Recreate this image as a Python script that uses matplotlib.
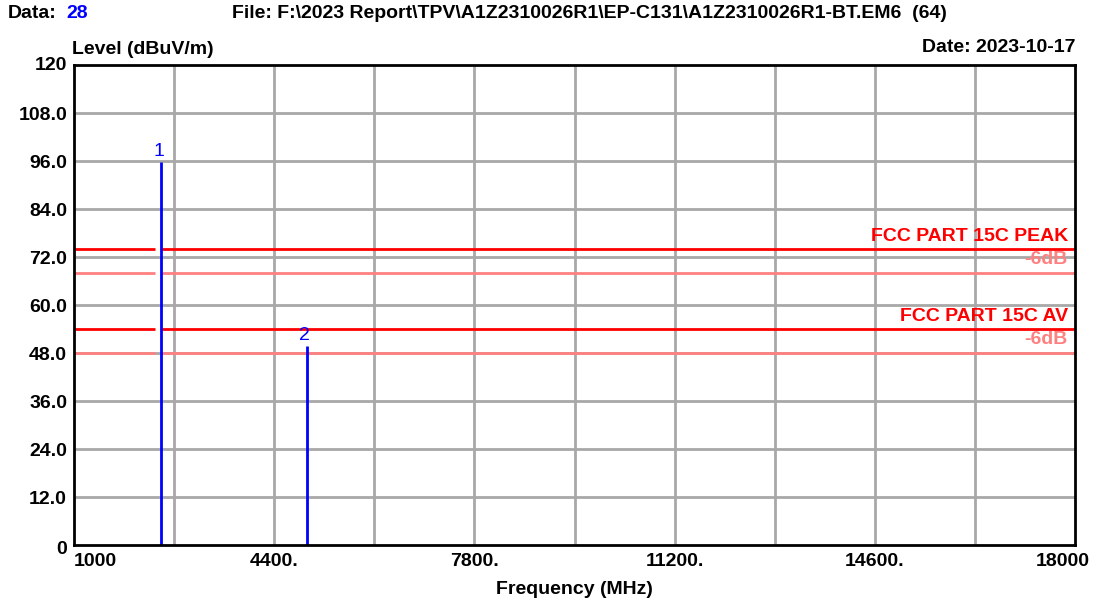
import matplotlib
matplotlib.use("Agg")
import matplotlib.pyplot as plt
from matplotlib.ticker import FixedLocator
from matplotlib.transforms import ScaledTranslation

# ---- data ----
x_ticks = [1000, 4400, 7800, 11200, 14600, 18000]
x_tick_labels = ["1000", "4400.", "7800.", "11200.", "14600.", "18000"]
x_grid = [1000, 2700, 4400, 6100, 7800, 9500, 11200, 12900, 14600, 16300, 18000]
y_ticks = [0, 12, 24, 36, 48, 60, 72, 84, 96, 108, 120]
y_tick_labels = ["0", "12.0", "24.0", "36.0", "48.0", "60.0", "72.0", "84.0", "96.0", "108.0", "120"]
marker_ids = ["1", "2"]
marker_freq = [2480, 4960]
marker_level = [95.7, 49.7]
limit_names = ["FCC PART 15C PEAK", "FCC PART 15C AV"]
limit_levels = [74, 54]
margin_db = 6

FONT = "Liberation Sans"
FS = 14
RED = "#ff0000"
PINK = "#ff8080"
BLUE = "#0000ff"
GRID = "#a8a8a8"

fig = plt.figure(figsize=(10.94, 6.03), dpi=100)
ax = fig.add_axes([74 / 1094, 1 - 545 / 603, 1001 / 1094, 480 / 603])
ax.set_xlim(1000, 18000)
ax.set_ylim(0, 120)

# grid
for g in x_grid[1:-1]:
    ax.axvline(g, color=GRID, lw=2, zorder=0)
for g in y_ticks[1:-1]:
    ax.axhline(g, color=GRID, lw=2, zorder=0)
ax.xaxis.set_major_locator(FixedLocator(x_ticks))
ax.yaxis.set_major_locator(FixedLocator(y_ticks))
ax.tick_params(which="both", length=0)
ax.set_xticklabels(x_tick_labels, fontfamily=FONT, fontweight="bold", fontsize=FS)
ax.set_yticklabels(y_tick_labels, fontfamily=FONT, fontweight="bold", fontsize=FS)
ax.tick_params(axis="y", pad=5)
ax.tick_params(axis="x", pad=6)
xl = ax.get_xticklabels()
xl[0].set_horizontalalignment("left")
xl[-1].set_horizontalalignment("right")
xl[-1].set_transform(xl[-1].get_transform() + ScaledTranslation(15 / 100, 0, fig.dpi_scale_trans))
yl = ax.get_yticklabels()
yl[-1].set_transform(yl[-1].get_transform() + ScaledTranslation(0, 2 / 100, fig.dpi_scale_trans))
yl[0].set_transform(yl[0].get_transform() + ScaledTranslation(0, -2 / 100, fig.dpi_scale_trans))
for s in ax.spines.values():
    s.set_linewidth(2)
    s.set_color("black")
    s.set_zorder(5)

# limit lines (with a small gap around marker 1)
gap_lo = marker_freq[0] - 105
gap_hi = marker_freq[0] + 15
for name, lv in zip(limit_names, limit_levels):
    for y, c in ((lv, RED), (lv - margin_db, PINK)):
        ax.plot([1000, gap_lo], [y, y], color=c, lw=2, zorder=2, solid_capstyle="butt")
        ax.plot([gap_hi, 18000], [y, y], color=c, lw=2, zorder=2, solid_capstyle="butt")
    ax.text(17880, lv + 0.9, name, color=RED, fontfamily=FONT, fontweight="bold",
            fontsize=FS, ha="right", va="bottom", zorder=4)
    ax.text(17880, lv - 0.5, "-%ddB" % margin_db, color=PINK, fontfamily=FONT, fontweight="bold",
            fontsize=FS, ha="right", va="top", zorder=4)

# markers
ax.vlines(marker_freq, 0, marker_level, color=BLUE, lw=2, zorder=3)
for mid, f, lv in zip(marker_ids, marker_freq, marker_level):
    ax.text(f - 40, lv + 0.6, mid, color=BLUE, fontfamily=FONT, fontsize=FS,
            ha="center", va="bottom", zorder=4)

ax.set_xlabel("Frequency (MHz)", fontfamily=FONT, fontweight="bold", fontsize=FS, labelpad=8)

# header texts
fig.text(8 / 1094, 1 - 14 / 603, "Data:", fontfamily=FONT, fontweight="bold", fontsize=FS, va="center")
fig.text(66 / 1094, 1 - 14 / 603, "28", color=BLUE, fontfamily=FONT, fontweight="bold", fontsize=FS, va="center")
fig.text(232 / 1094, 1 - 14 / 603,
         "File: F:\\2023 Report\\TPV\\A1Z2310026R1\\EP-C131\\A1Z2310026R1-BT.EM6  (64)",
         fontfamily=FONT, fontweight="bold", fontsize=FS, va="center")
fig.text(72 / 1094, 1 - 50 / 603, "Level (dBuV/m)", fontfamily=FONT, fontweight="bold", fontsize=FS, va="center")
fig.text(1076 / 1094, 1 - 47 / 603, "Date: 2023-10-17", fontfamily=FONT, fontweight="bold", fontsize=FS,
         va="center", ha="right")

fig.savefig("out.png", dpi=100, facecolor="white")
